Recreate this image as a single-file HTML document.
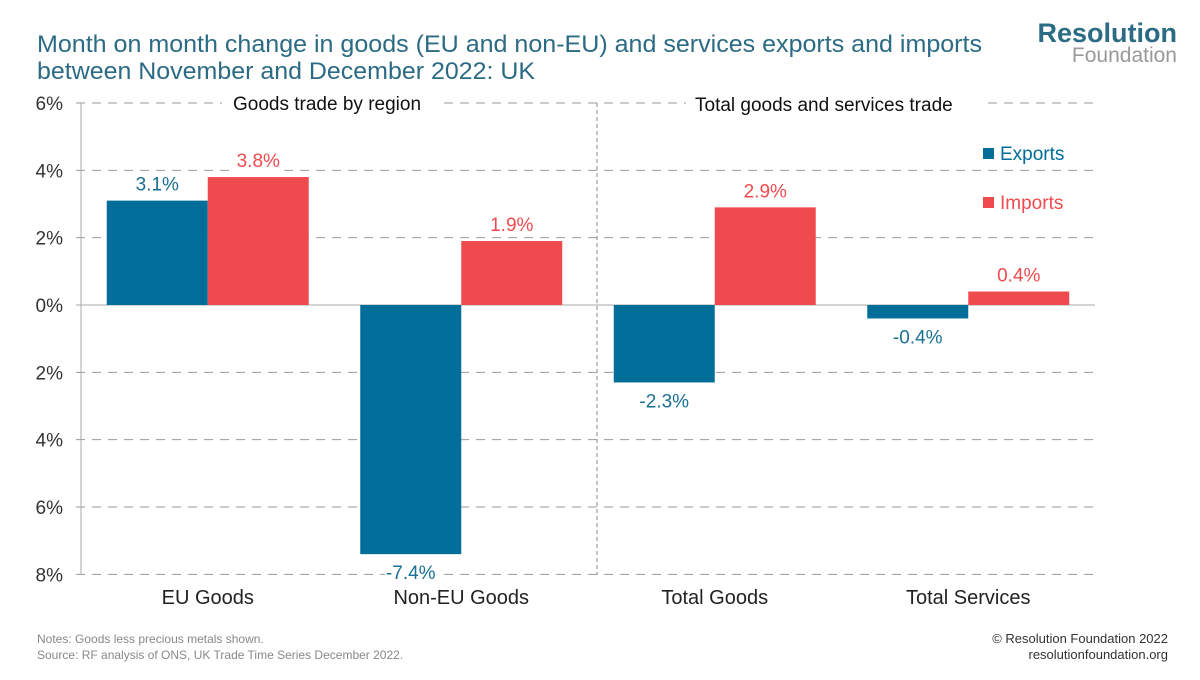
<!DOCTYPE html>
<html><head><meta charset="utf-8"><style>
body{margin:0;background:#fff;}
svg text{font-family:"Liberation Sans",sans-serif;}
</style></head><body>
<svg width="1200" height="675" viewBox="0 0 1200 675" xmlns="http://www.w3.org/2000/svg">
<text x="37" y="52" font-size="24" fill="#2b6b84" textLength="945" lengthAdjust="spacingAndGlyphs">Month on month change in goods (EU and non-EU) and services exports and imports</text>
<text x="37" y="79" font-size="24" fill="#2b6b84" textLength="498" lengthAdjust="spacingAndGlyphs">between November and December 2022: UK</text>
<text x="1177" y="42" font-size="27" font-weight="bold" fill="#2b6b84" text-anchor="end">Resolution</text>
<text x="1177" y="62" font-size="21" fill="#999" text-anchor="end">Foundation</text>
<g id="grid"></g>
<line x1="597" y1="103" x2="597" y2="575" stroke="#888" stroke-dasharray="4,3"/>
<rect x="222" y="88" width="222" height="30" fill="#fff"/>
<text x="233" y="110" font-size="19" fill="#111">Goods trade by region</text>
<rect x="686" y="90" width="300" height="30" fill="#fff"/>
<text x="695" y="111" font-size="19" fill="#111">Total goods and services trade</text>
<g id="bars"></g>
<line x1="81" y1="103" x2="81" y2="575" stroke="#aaa"/>
<rect x="983" y="148" width="11" height="11" fill="#006e99"/>
<text x="1000" y="160" font-size="19" fill="#006e99">Exports</text>
<rect x="983" y="197" width="11" height="11" fill="#ef4b4e"/>
<text x="1000" y="209" font-size="19" fill="#ef4b4e">Imports</text>
<text x="37" y="643" font-size="12" fill="#888">Notes: Goods less precious metals shown.</text>
<text x="37" y="659" font-size="12" fill="#888">Source: RF analysis of ONS, UK Trade Time Series December 2022.</text>
<text x="1168" y="643" font-size="13" fill="#333" text-anchor="end">© Resolution Foundation 2022</text>
<text x="1168" y="659" font-size="13" fill="#333" text-anchor="end">resolutionfoundation.org</text>
</svg>
<script>
const categories=["EU Goods","Non-EU Goods","Total Goods","Total Services"];
const exportsVals=[3.1,-7.4,-2.3,-0.4];
const importsVals=[3.8,1.9,2.9,0.4];
const yTicks=[6,4,2,0,-2,-4,-6,-8];
const NS="http://www.w3.org/2000/svg";
const x0=81,x1=1095,y=v=>305-v*33.67;
const band=(x1-x0)/categories.length,bw=101;
function mk(t,a,p){const e=document.createElementNS(NS,t);for(const k in a)e.setAttribute(k,a[k]);if(p)p.appendChild(e);return e;}
const svg=document.querySelector('svg'),g=document.getElementById('grid'),b=document.getElementById('bars');
yTicks.forEach(t=>{
 const l=mk('line',{x1:76,x2:x1,y1:y(t),y2:y(t),stroke:t===0?'#aaa':'#999','stroke-dasharray':t===0?'none':'9,7'},g);
 
 
 const tx=mk('text',{x:63,y:y(t)+7,'font-size':19,fill:'#333','text-anchor':'end'},svg);
 tx.textContent=Math.abs(t)+'%';
 
 
});
categories.forEach((c,i)=>{
 const cx=x0+band*(i+0.5);
 [[exportsVals[i],cx-bw,'#006e99','#1a6f93'],[importsVals[i],cx,'#ef4b4e','#ef4b4e']].forEach(([v,bx,col,tc],j)=>{
  const top=Math.min(y(v),y(0)),h=Math.abs(y(v)-y(0));
  const r=mk('rect',{x:bx,y:top,width:bw,height:h,fill:col},b);
  
  
  const ty=v>=0?y(v)-10:y(v)+25;
  mk('rect',{x:bx+bw/2-26,y:ty-17,width:52,height:22,fill:'#fff'},svg);
  const t=mk('text',{x:bx+bw/2,y:ty,'font-size':19,fill:tc,'text-anchor':'middle'},svg);
  t.textContent=v.toFixed(1)+'%';
  
  
 });
 const t=mk('text',{x:cx,y:604,'font-size':20,fill:'#222','text-anchor':'middle'},svg);
 t.textContent=c;
 
 
});
</script>
</body></html>
